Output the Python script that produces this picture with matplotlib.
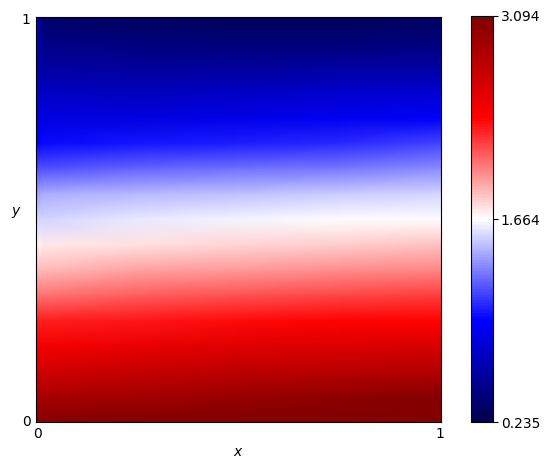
import numpy as np
import matplotlib
matplotlib.use("Agg")
import matplotlib.pyplot as plt
from matplotlib.cm import ScalarMappable
from matplotlib.colors import Normalize
from matplotlib.transforms import ScaledTranslation

#values, top row first, left to right
x_cols = [0, 0.02, 0.25, 0.5, 0.75, 1]
row_01 = [0.750, 0.349, 0.321, 0.292, 0.292, 0.321]
row_02 = [0.692, 0.464, 0.435, 0.407, 0.407, 0.435]
row_03 = [0.635, 0.578, 0.549, 0.549, 0.578, 0.578]
row_04 = [0.750, 0.721, 0.692, 0.721, 0.750, 0.778]
row_05 = [0.864, 0.835, 0.835, 0.864, 0.893, 0.921]
row_06 = [0.950, 0.978, 1.007, 1.036, 1.064, 1.150]
row_07 = [1.178, 1.178, 1.236, 1.264, 1.293, 1.350]
row_08 = [1.407, 1.436, 1.464, 1.493, 1.522, 1.550]
row_09 = [1.550, 1.550, 1.607, 1.636, 1.665, 1.665]
row_10 = [1.693, 1.722, 1.750, 1.779, 1.807, 1.836]
row_11 = [1.865, 1.865, 1.922, 1.950, 1.979, 2.008]
row_12 = [2.065, 2.065, 2.122, 2.151, 2.179, 2.208]
row_13 = [2.293, 2.293, 2.322, 2.351, 2.379, 2.379]
row_14 = [2.436, 2.436, 2.494, 2.551, 2.579, 2.608]
row_15 = [2.637, 2.637, 2.694, 2.751, 2.780, 2.808]
row_16 = [2.865, 2.865, 2.894, 2.951, 3.008, 3.065]
row_17 = [3.065, 3.065, 3.094, 3.094, 3.094, 3.065]

vmin = 0.235
vmax = 3.094
cbar_ticks = [0.235, 1.664, 3.094]

Z = np.array([row_01, row_02, row_03, row_04, row_05, row_06, row_07, row_08, row_09,
              row_10, row_11, row_12, row_13, row_14, row_15, row_16, row_17])
y = np.linspace(1, 0, Z.shape[0])

fig = plt.figure(figsize=(5.51, 4.70), dpi=100)
ax = fig.add_axes([36/551, 1-422/470, 405/551, 405/470])
ax.pcolormesh(x_cols, y, Z, shading="gouraud", cmap="seismic", vmin=vmin, vmax=vmax)
ax.set_xlim(0, 1)
ax.set_ylim(0, 1)
ax.set_xticks([0, 1])
ax.set_yticks([0, 1])
ax.set_xticklabels(["0", "1"])
ax.set_yticklabels(["0", "1"])
ax.tick_params(axis="x", length=0, pad=3.5)
ax.tick_params(axis="y", length=0, pad=4)
ax.set_xlabel("$x$", labelpad=3)
ax.set_ylabel("$y$", rotation=0, labelpad=4)

#nudge the tick labels inwards a little
def nudge(label, dx, dy):
    label.set_transform(label.get_transform() + ScaledTranslation(dx/100, dy/100, fig.dpi_scale_trans))

xt = ax.get_xticklabels()
yt = ax.get_yticklabels()
nudge(xt[0], 1, 0)
nudge(xt[1], -1.5, 0)
nudge(yt[0], 0, 2)
nudge(yt[1], 0, -1)

#colorbar
cax = fig.add_axes([471/551, 1-422/470, 22/551, 406/470])
cb = fig.colorbar(ScalarMappable(Normalize(vmin, vmax), "seismic"), cax=cax)
cb.set_ticks(cbar_ticks)
cb.set_ticklabels(["0.235", "1.664", "3.094"])
cb.ax.tick_params(pad=2)

fig.savefig("out.png", dpi=100)
